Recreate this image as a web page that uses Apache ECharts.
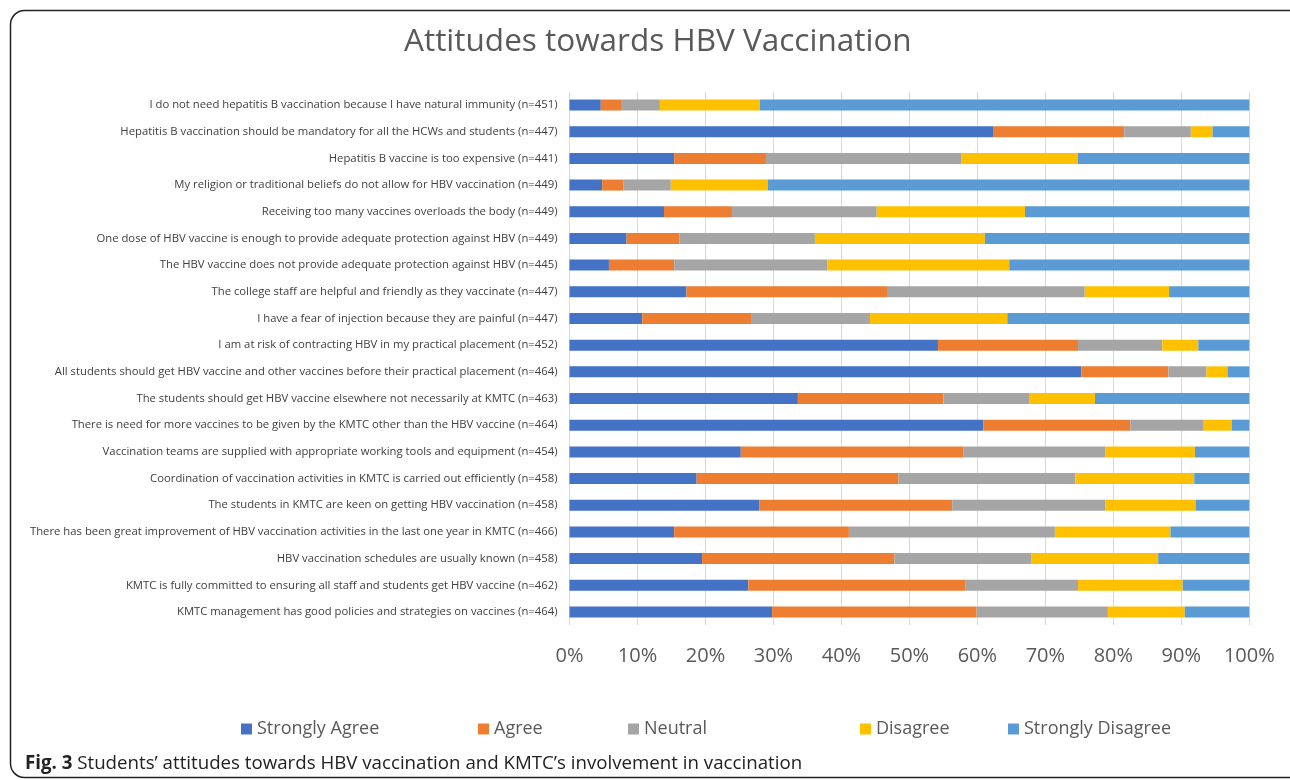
<!DOCTYPE html>
<html>
<head>
<meta charset="utf-8">
<script src="https://cdn.jsdelivr.net/npm/echarts@6/dist/echarts.min.js"></script>
<style>html,body{margin:0;padding:0;background:#fff;}#chart{width:1290px;height:780px;}</style>
</head>
<body>
<div id="chart"></div>
<script>
const categories = [
  "I do not need hepatitis B vaccination because I have natural immunity (n=451)",
  "Hepatitis B vaccination should be mandatory for all the HCWs and students (n=447)",
  "Hepatitis B vaccine is too expensive (n=441)",
  "My religion or traditional beliefs do not allow for HBV vaccination (n=449)",
  "Receiving too many vaccines overloads the body (n=449)",
  "One dose of HBV vaccine is enough to provide adequate protection against HBV (n=449)",
  "The HBV vaccine does not provide adequate protection against HBV (n=445)",
  "The college staff are helpful and friendly as they vaccinate (n=447)",
  "I have a fear of injection because they are painful (n=447)",
  "I am at risk of contracting HBV in my practical placement (n=452)",
  "All students should get HBV vaccine and other vaccines before their practical placement (n=464)",
  "The students should get HBV vaccine elsewhere not necessarily at KMTC (n=463)",
  "There is need for more vaccines to be given by the KMTC other than the HBV vaccine (n=464)",
  "Vaccination teams are supplied with appropriate working tools and equipment (n=454)",
  "Coordination of vaccination activities in KMTC is carried out efficiently (n=458)",
  "The students in KMTC are keen on getting HBV vaccination (n=458)",
  "There has been great improvement of HBV vaccination activities in the last one year in KMTC (n=466)",
  "HBV vaccination schedules are usually known (n=458)",
  "KMTC is fully committed to ensuring all staff and students get HBV vaccine (n=462)",
  "KMTC management has good policies and strategies on vaccines (n=464)"
];
const stronglyAgree    = [4.6, 62.3, 15.4, 4.8, 13.9, 8.4, 5.8, 17.2, 10.7, 54.2, 75.3, 33.6, 60.9, 25.2, 18.7, 27.9, 15.4, 19.5, 26.3, 29.8];
const agree            = [3.1, 19.3, 13.5, 3.1, 10.0, 7.8, 9.6, 29.5, 16.0, 20.6, 12.8, 21.4, 21.6, 32.7, 29.7, 28.4, 25.7, 28.3, 31.9, 30.1];
const neutral          = [5.6, 9.8, 28.7, 7.0, 21.3, 19.9, 22.5, 29.1, 17.5, 12.4, 5.6, 12.7, 10.8, 20.9, 26.0, 22.5, 30.3, 20.1, 16.6, 19.3];
const disagree         = [14.7, 3.2, 17.2, 14.3, 21.8, 25.0, 26.8, 12.4, 20.2, 5.3, 3.1, 9.6, 4.1, 13.2, 17.5, 13.3, 17.0, 18.7, 15.4, 11.3];
const stronglyDisagree = [72.0, 5.4, 25.2, 70.8, 33.0, 38.9, 35.3, 11.8, 35.6, 7.5, 3.2, 22.7, 2.6, 8.0, 8.1, 7.9, 11.6, 13.4, 9.8, 9.5];
const seriesNames = ["Strongly Agree", "Agree", "Neutral", "Disagree", "Strongly Disagree"];
const seriesColors = ["#4472C4", "#ED7D31", "#A5A5A5", "#FFC000", "#5B9BD5"];
const xTicks = [0, 10, 20, 30, 40, 50, 60, 70, 80, 90, 100];
const titleText = "Attitudes towards HBV Vaccination";
const captionBold = "Fig. 3";
const captionText = " Students\u2019 attitudes towards HBV vaccination and KMTC\u2019s involvement in vaccination";

const seriesValues = [stronglyAgree, agree, neutral, disagree, stronglyDisagree];
const legendLefts = [241, 478, 628, 860, 1008];
const FONT = "'Open Sans', 'Noto Sans', sans-serif";

const chart = echarts.init(document.getElementById('chart'), null, {renderer: 'canvas'});
chart.setOption({
  animation: false,
  backgroundColor: '#fff',
  textStyle: {fontFamily: FONT},
  title: {
    text: titleText, left: 404, top: 26, padding: 0,
    textStyle: {fontSize: 31.5, fontWeight: 'normal', color: '#595959', fontFamily: FONT}
  },
  legend: seriesNames.map((n, i) => ({
    data: [n], left: legendLefts[i], top: 720, padding: 0,
    icon: 'rect', itemWidth: 11, itemHeight: 11, itemGap: 0,
    textStyle: {fontSize: 18, color: '#595959', fontFamily: FONT}
  })),
  grid: {left: 569.5, right: 40.7, top: 91.7, bottom: 154.7, containLabel: false},
  xAxis: {
    type: 'value', min: 0, max: 100, interval: 10,
    axisLine: {show: false}, axisTick: {show: false},
    splitLine: {show: true, lineStyle: {color: '#D9D9D9', width: 1}},
    axisLabel: {formatter: v => xTicks.includes(v) ? v + '%' : '', fontSize: 20, color: '#595959', margin: 21, fontFamily: FONT}
  },
  yAxis: {
    type: 'category', data: categories, inverse: true,
    axisLine: {show: false}, axisTick: {show: false},
    axisLabel: {fontSize: 11.3, color: '#404040', margin: 12, fontFamily: FONT}
  },
  series: seriesNames.map((n, i) => ({
    name: n, type: 'bar', stack: 'total', barWidth: 11,
    itemStyle: {color: seriesColors[i]},
    data: seriesValues[i]
  })),
  graphic: [
    {type: 'rect', shape: {x: 10.5, y: 10.5, width: 1300, height: 767, r: 14}, style: {fill: 'none', stroke: '#222', lineWidth: 1.5}, silent: true, z: 100},
    {type: 'text', left: 25, top: 754, style: {
      text: '{b|' + captionBold + '}{r|' + captionText + '}',
      rich: {
        b: {fontSize: 18.7, fontWeight: 'bold', fill: '#222', fontFamily: FONT},
        r: {fontSize: 18.7, fill: '#222', fontFamily: FONT}
      }
    }}
  ]
});
</script>
</body>
</html>
